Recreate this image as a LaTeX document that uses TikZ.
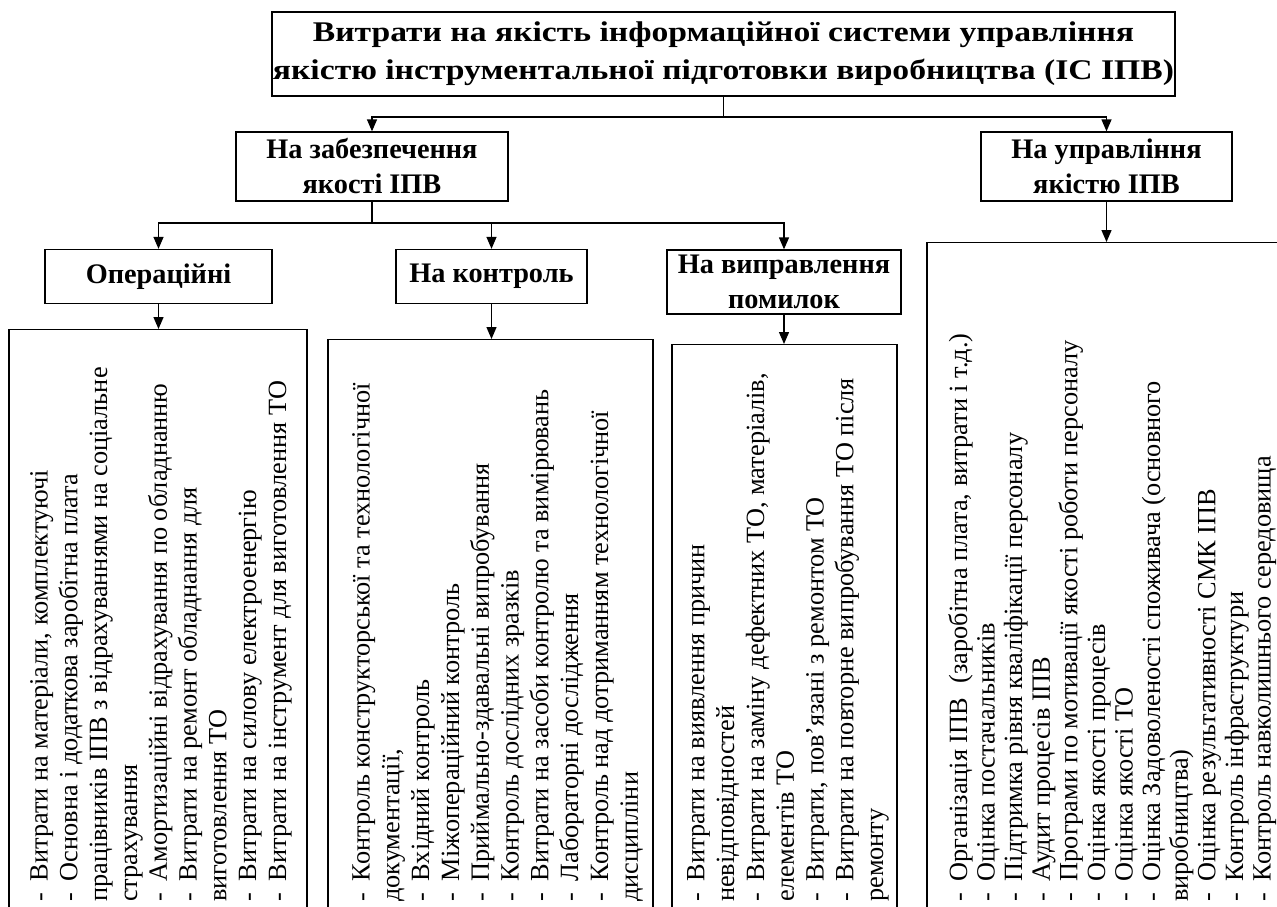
\documentclass[tikz,border=0pt]{standalone}
\usepackage{fontspec}
\setmainfont{Liberation Serif}
\newfontfamily\widefont[FakeStretch=1.18]{Liberation Serif}
\usetikzlibrary{arrows.meta,calc}
\newcommand{\itm}{-\hspace{0.45em}}
\begin{document}
\begin{tikzpicture}[x=1pt,y=-1pt,
  box/.style={draw, line width=1.3pt, inner sep=0pt},
  head/.style={box, font=\bfseries\fontsize{28.3}{35}\selectfont, align=center},
  list/.style={rotate=90, anchor=north west, inner sep=0pt, align=left,
    font=\fontsize{26.3}{29.8}\selectfont},
  con/.style={line width=1.3pt},
  arr/.style={con, -{Triangle[length=12pt,width=10pt]}}]
\useasboundingbox (0,0) rectangle (1277,906);
\clip (0,0) rectangle (1277,906);
\fill[white] (0,0) rectangle (1277,906);

% header boxes
\node[head, minimum width=903pt, minimum height=84pt,
  font=\widefont\bfseries\fontsize{28.5}{38}\selectfont] (top) at (723.5,54)
  {Витрати на якість інформаційної системи управління\\
   якістю інструментальної підготовки виробництва (ІС ІПВ)};
\node[head, minimum width=272pt, minimum height=69pt] (zab) at (372,166.5)
  {На забезпечення\\якості ІПВ};
\node[head, minimum width=251pt, minimum height=69pt] (upr) at (1106.5,166.5)
  {На управління\\якістю ІПВ};
\node[head, minimum width=227pt, minimum height=54pt] (op) at (158.5,276.5)
  {Операційні};
\node[head, minimum width=191pt, minimum height=54pt] (kon) at (491.5,276.5)
  {На контроль};
\node[head, minimum width=234pt, minimum height=64pt] (vyp) at (784,282)
  {На виправлення\\помилок};

% tall list boxes (open at the lower edge)
\node[box, anchor=north, minimum width=298pt, minimum height=700pt] (b1) at (158,329) {};
\node[box, anchor=north, minimum width=325pt, minimum height=700pt] (b2) at (490.5,339) {};
\node[box, anchor=north, minimum width=225pt, minimum height=700pt] (b3) at (784.5,344) {};
\node[box, anchor=north, minimum width=360pt, minimum height=760pt] (b4) at (1107,242) {};

% connectors
\coordinate (bus1) at (0,117);
\coordinate (bus2) at (0,223);
\draw[con] (top.south) -- (top.south |- bus1);
\draw[arr] (top.south |- bus1) -| (zab.north);
\draw[arr] (top.south |- bus1) -| (upr.north);
\draw[con] (zab.south) -- (zab.south |- bus2);
\draw[arr] (zab.south |- bus2) -| (op.north);
\draw[arr] (zab.south |- bus2) -| (kon.north);
\draw[arr] (zab.south |- bus2) -| (vyp.north);
\draw[arr] (op.south) -- (op.south |- b1.north);
\draw[arr] (kon.south) -- (kon.south |- b2.north);
\draw[arr] (vyp.south) -- (vyp.south |- b3.north);
\draw[arr] (upr.south) -- (upr.south |- b4.north);

% lists
\node[list] (t1) at (30,902) {%
\itm Витрати на матеріали, комплектуючі\\
\itm Основна і додаткова заробітна плата\\
працівників ІПВ з відрахуваннями на соціальне\\
страхування\\
\itm Амортизаційні відрахування по обладнанню\\
\itm Витрати на ремонт обладнання для\\
виготовлення ТО\\
\itm Витрати на силову електроенергію\\
\itm Витрати на інструмент для виготовлення ТО};
\node[list] (t2) at (352,902) {%
\itm Контроль конструкторської та технологічної\\
документації,\\
\itm Вхідний контроль\\
\itm Міжопераційний контроль\\
\itm Приймально-здавальні випробування\\
\itm Контроль дослідних зразків\\
\itm Витрати на засоби контролю та вимірювань\\
\itm Лабораторні дослідження\\
\itm Контроль над дотриманням технологічної\\
дисципліни};
\node[list] (t3) at (687,902) {%
\itm Витрати на виявлення причин\\
невідповідностей\\
\itm Витрати на заміну дефектних ТО, матеріалів,\\
елементів ТО\\
\itm Витрати, пов'язані з ремонтом ТО\\
\itm Витрати на повторне випробування ТО після\\
ремонту};
\node[list, font=\fontsize{26.3}{27.6}\selectfont] (t4) at (948,902) {%
\itm Організація ІПВ\hspace{0.3em} (заробітна плата, витрати і т.д.)\\
\itm Оцінка постачальників\\
\itm Підтримка рівня кваліфікації персоналу\\
\itm Аудит процесів ІПВ\\
\itm Програми по мотивації якості роботи персоналу\\
\itm Оцінка якості процесів\\
\itm Оцінка якості ТО\\
\itm Оцінка Задоволеності споживача (основного\\
виробництва)\\
\itm Оцінка результативності СМК ІПВ\\
\itm Контроль інфраструктури\\
\itm Контроль навколишнього середовища};
\end{tikzpicture}
\end{document}
